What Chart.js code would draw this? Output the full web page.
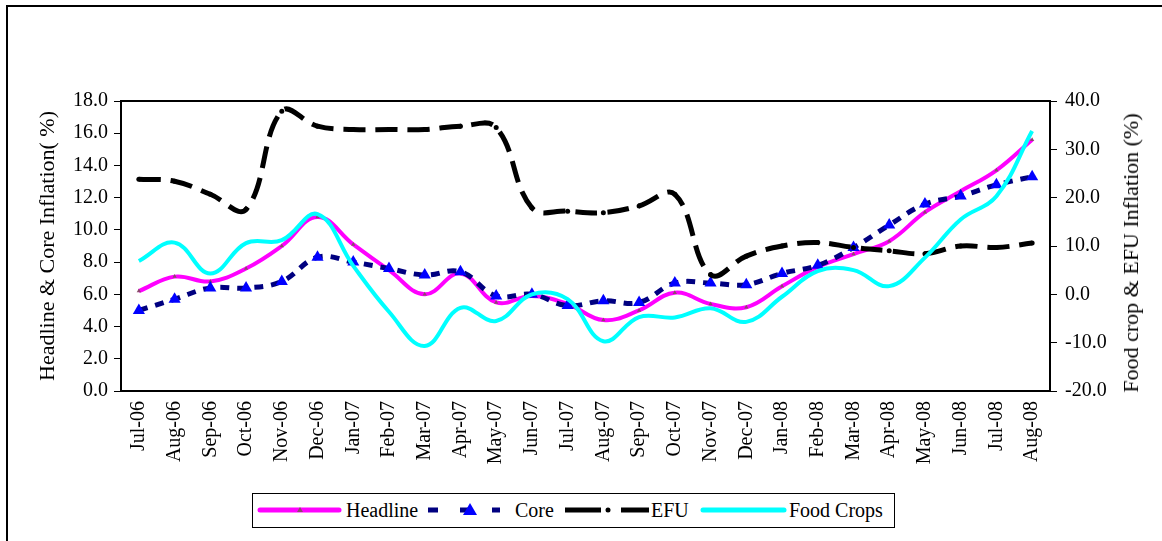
<!DOCTYPE html>
<html>
<head>
<meta charset="utf-8">
<script src="https://cdn.jsdelivr.net/npm/chart.js@4"></script>
<style>
  html, body { margin: 0; padding: 0; background: #fff; overflow: hidden; }
  #wrap { position: relative; width: 1162px; height: 541px; }
  #outer { position: absolute; left: 6px; top: 5px; width: 1300px; height: 700px;
           border-left: 2px solid #000; border-top: 2px solid #000; }
  #chart { position: absolute; left: 0; top: 0; }
  #rtitle { position: absolute; left: 1131px; top: 253px; white-space: nowrap;
            font-family: 'Liberation Serif', serif; font-size: 22px; color: #000;
            transform: translate(-50%, -50%) rotate(-90deg); }
  #legend { position: absolute; left: 252px; top: 493px; width: 641px; height: 33px;
            border: 1px solid #000; background: #fff;
            font-family: 'Liberation Serif', serif; font-size: 20px; color: #000; }
  #legend svg { position: absolute; left: 0; top: 0; }
  #legend span { position: absolute; top: 0; line-height: 33px; }
</style>
</head>
<body>
<div id="wrap">
  <div id="outer"></div>
  <canvas id="chart" width="1162" height="541"></canvas>
  <div id="rtitle">Food crop &amp; EFU Inflation (%)</div>
  <div id="legend">
    <svg width="641" height="33">
      <line x1="7" y1="16" x2="86" y2="16" stroke="#ff00ff" stroke-width="5" stroke-linecap="round"/>
      <polygon points="47,13 44,18 50,18" fill="#8b4a6b"/>
      <line x1="175" y1="16" x2="247" y2="16" stroke="#000080" stroke-width="5" stroke-dasharray="10 22"/>
      <polygon points="217,9 210,21 224,21" fill="#0000ff"/>
      <line x1="312" y1="16" x2="348" y2="16" stroke="#000" stroke-width="5"/>
      <circle cx="355" cy="16" r="2.5" fill="#000"/>
      <line x1="368" y1="16" x2="396" y2="16" stroke="#000" stroke-width="5"/>
      <line x1="450" y1="16" x2="531" y2="16" stroke="#00ffff" stroke-width="5" stroke-linecap="round"/>
    </svg>
    <span style="left:93px">Headline</span>
    <span style="left:262px">Core</span>
    <span style="left:398px">EFU</span>
    <span style="left:536px">Food Crops</span>
  </div>
</div>
<script>
// months on the category axis
const months = ['Jul-06', 'Aug-06', 'Sep-06', 'Oct-06', 'Nov-06', 'Dec-06',
  'Jan-07', 'Feb-07', 'Mar-07', 'Apr-07', 'May-07', 'Jun-07', 'Jul-07', 'Aug-07',
  'Sep-07', 'Oct-07', 'Nov-07', 'Dec-07', 'Jan-08', 'Feb-08', 'Mar-08', 'Apr-08',
  'May-08', 'Jun-08', 'Jul-08', 'Aug-08'];

// left axis series (%)
const headline = [6.2, 7.1, 6.8, 7.6, 9.0, 10.8, 9.1, 7.5, 6.0, 7.3, 5.5, 5.9, 5.4,
  4.4, 5.0, 6.1, 5.4, 5.2, 6.5, 7.7, 8.5, 9.3, 11.1, 12.4, 13.7, 15.6];
const core = [5.0, 5.7, 6.4, 6.4, 6.8, 8.3, 8.0, 7.6, 7.2, 7.4, 5.9, 6.0, 5.3,
  5.6, 5.5, 6.7, 6.7, 6.6, 7.3, 7.8, 8.9, 10.3, 11.6, 12.1, 12.8, 13.3];

// right axis series (%)
const efu = [23.8, 23.4, 20.7, 17.6, 37.9, 34.8, 34.1, 34.1, 34.1, 34.8, 34.5, 17.9, 17.2,
  16.9, 18.3, 20.7, 4.1, 7.9, 10.0, 10.7, 9.7, 9.0, 8.4, 10.0, 9.7, 10.6];
const foodCrops = [6.9, 10.7, 4.3, 10.6, 11.2, 16.6, 5.9, -3.6, -10.7, -2.8, -5.5, 0.0, -1.0,
  -9.7, -4.7, -4.8, -2.9, -5.7, -0.5, 4.8, 5.0, 1.7, 7.6, 15.5, 20.3, 33.8];

const font = { family: "'Liberation Serif', serif", size: 20 };
const titleFont = { family: "'Liberation Serif', serif", size: 22 };

// black box round the plot area
const plotFrame = {
  id: 'plotFrame',
  afterDraw(chart) {
    const { ctx, chartArea: a } = chart;
    ctx.save();
    ctx.strokeStyle = '#000';
    ctx.lineWidth = 2;
    ctx.strokeRect(a.left, a.top, a.right - a.left, a.bottom - a.top);
    ctx.restore();
  }
};

const ctx = document.getElementById('chart').getContext('2d');
new Chart(ctx, {
  type: 'line',
  data: {
    labels: months,
    datasets: [
      {
        label: 'Headline', data: headline, yAxisID: 'y', order: 4,
        borderColor: '#ff00ff', borderWidth: 4, tension: 0.4,
        pointStyle: 'triangle', pointRadius: 2.5,
        pointBackgroundColor: '#8b4a6b', pointBorderColor: '#8b4a6b', pointBorderWidth: 0
      },
      {
        label: 'Core', data: core, yAxisID: 'y', order: 3,
        borderColor: '#000080', borderWidth: 5, borderDash: [9, 8], tension: 0.4,
        pointStyle: 'triangle', pointRadius: 7,
        pointBackgroundColor: '#0000ff', pointBorderColor: '#0000ff', pointBorderWidth: 0
      },
      {
        label: 'EFU', data: efu, yAxisID: 'y1', order: 2,
        borderColor: '#000', borderWidth: 5, borderDash: [22, 10], tension: 0.4,
        pointRadius: 2.5, pointBackgroundColor: '#000', pointBorderColor: '#000', pointBorderWidth: 0
      },
      {
        label: 'Food Crops', data: foodCrops, yAxisID: 'y1', order: 1,
        borderColor: '#00ffff', borderWidth: 4, tension: 0.4,
        pointRadius: 0
      }
    ]
  },
  options: {
    responsive: false,
    animation: false,
    layout: { padding: { top: 101, left: 0, right: 0, bottom: 0 } },
    plugins: {
      legend: { display: false },
      tooltip: { enabled: false }
    },
    scales: {
      x: {
        offset: true,
        grid: { display: true, drawOnChartArea: false, drawTicks: false },
        border: { display: false },
        ticks: { minRotation: 90, maxRotation: 90, autoSkip: false, color: '#000', font: font, padding: 10 },
        afterFit(scale) { scale.height = 150; }
      },
      y: {
        position: 'left',
        min: 0, max: 18,
        ticks: { stepSize: 2, color: '#000', font: font, padding: 6,
                 callback: v => v.toFixed(1) },
        grid: { drawOnChartArea: false, tickLength: 7, color: '#000' },
        border: { display: false },
        title: { display: true, text: 'Headline & Core Inflation( %)', color: '#000', font: titleFont,
                 padding: { top: 35, bottom: 0 } },
        afterFit(scale) { scale.width = 121; }
      },
      y1: {
        position: 'right',
        min: -20, max: 40,
        ticks: { stepSize: 10, color: '#000', font: font, padding: 8,
                 callback: v => v.toFixed(1) },
        grid: { drawOnChartArea: false, tickLength: 7, color: '#000' },
        border: { display: false },
        afterFit(scale) { scale.width = 112; }
      }
    }
  },
  plugins: [plotFrame]
});
</script>
</body>
</html>
